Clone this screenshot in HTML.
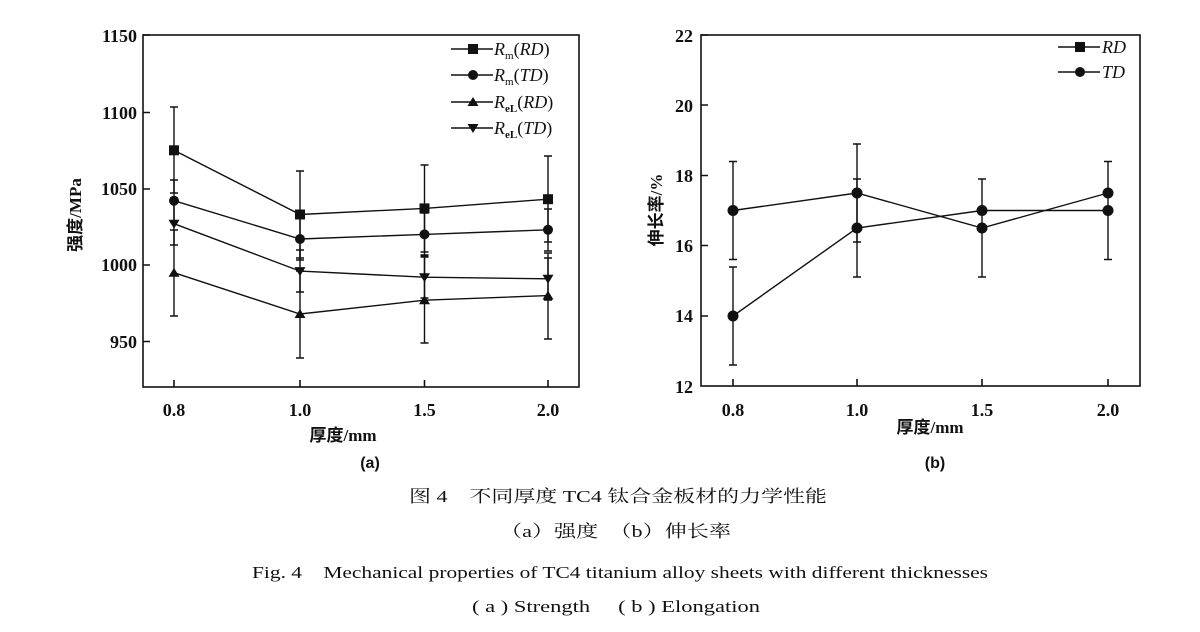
<!DOCTYPE html>
<html><head><meta charset="utf-8"><style>
body{margin:0;background:#fff;}
svg{display:block}
text{font-family:"Liberation Serif","Noto Serif CJK SC",serif;fill:#111}
.t{font-size:18px;font-weight:bold}
.cj{font-family:"Liberation Serif","Noto Sans CJK SC",sans-serif;font-weight:bold;font-size:17px}
.cap{font-family:"Liberation Serif","Noto Serif CJK SC",serif;font-size:17px}
</style></head><body>
<svg width="1200" height="632" viewBox="0 0 1200 632" xmlns="http://www.w3.org/2000/svg">
<g stroke="#111" fill="none" stroke-width="1.6">
<!-- chart a frame -->
<rect x="143" y="35" width="436" height="352"/>
<path d="M174 387v-7M300 387v-7M424.5 387v-7M548 387v-7M143 35h7M143 112.5h7M143 189h7M143 265h7M143 341.5h7"/>
<!-- chart b frame -->
<rect x="701" y="35" width="439" height="351"/>
<path d="M733 386v-7M857 386v-7M982 386v-7M1108 386v-7M701 35h7M701 105h7M701 175.5h7M701 245.5h7M701 316h7"/>
</g>
<g stroke="#111" stroke-width="1.4" fill="none">
<!-- a lines -->
<polyline points="174,150.3 300,214.5 424.5,208.4 548,199.2"/>
<polyline points="174,200.7 300,239 424.5,234.4 548,229.8"/>
<polyline points="174,272.7 300,314 424.5,300.2 548,295.6"/>
<polyline points="174,223.7 300,271.1 424.5,277.2 548,278.8"/>
<!-- a error bars -->
<path d="M174 107v86M170 107h8M170 193h8 M300 171v87M296 171h8M296 258h8 M424.5 165v87M420.5 165h8M420.5 252h8 M548 156v86M544 156h8M544 242h8"/>
<path d="M174 180v42M170 180h8M170 222h8 M300 218v42M296 218h8M296 260h8 M424.5 213v42M420.5 213h8M420.5 255h8 M548 209v42M544 209h8M544 251h8"/>
<path d="M174 230v86M170 230h8M170 316h8 M300 271v87M296 271h8M296 358h8 M424.5 257v86M420.5 257h8M420.5 343h8 M548 253v86M544 253h8M544 339h8"/>
<path d="M174 203v42M170 203h8M170 245h8 M300 250v42M296 250h8M296 292h8 M424.5 256v42M420.5 256h8M420.5 298h8 M548 258v42M544 258h8M544 300h8"/>
<!-- b lines -->
<polyline points="733,210.5 857,193 982,228 1108,193"/>
<polyline points="733,316 857,228 982,210.5 1108,210.5"/>
<path d="M733 161.5v98M729 161.5h8M729 259.5h8 M857 144v98M853 144h8M853 242h8 M982 179v98M978 179h8M978 277h8 M1108 161.5v98M1104 161.5h8M1104 259.5h8"/>
<path d="M733 267v98M729 267h8M729 365h8 M857 179v98M853 179h8M853 277h8"/>
<!-- legends -->
<path d="M451 49h42M451 75h42M451 102h42M451 128h42M1058 47h42M1058 72h42"/>
</g>
<g fill="#111">
<rect x="169" y="145.3" width="10" height="10"/><rect x="295" y="209.5" width="10" height="10"/><rect x="419.5" y="203.4" width="10" height="10"/><rect x="543" y="194.2" width="10" height="10"/>
<circle cx="174" cy="200.7" r="5"/><circle cx="300" cy="239" r="5"/><circle cx="424.5" cy="234.4" r="5"/><circle cx="548" cy="229.8" r="5"/>
<path d="M174 267.7l5.5 9h-11z M300 309l5.5 9h-11z M424.5 295.2l5.5 9h-11z M548 290.6l5.5 9h-11z"/>
<path d="M174 228.7l5.5-9h-11z M300 276.1l5.5-9h-11z M424.5 282.2l5.5-9h-11z M548 283.8l5.5-9h-11z"/>
<circle cx="733" cy="210.5" r="5.5"/><circle cx="857" cy="193" r="5.5"/><circle cx="982" cy="228" r="5.5"/><circle cx="1108" cy="193" r="5.5"/>
<circle cx="733" cy="316" r="5.5"/><circle cx="857" cy="228" r="5.5"/><circle cx="982" cy="210.5" r="5.5"/><circle cx="1108" cy="210.5" r="5.5"/>
<rect x="468" y="44" width="10" height="10"/><circle cx="473" cy="75" r="5"/><path d="M473 97l5.5 9h-11z M473 133l5.5-9h-11z"/>
<rect x="1075" y="42" width="10" height="10"/><circle cx="1080" cy="72" r="5"/>
</g>
<!-- tick labels a -->
<g class="t" text-anchor="end">
<text x="137" y="42">1150</text><text x="137" y="119">1100</text><text x="137" y="195">1050</text><text x="137" y="271">1000</text><text x="137" y="348">950</text>
<text x="693" y="42">22</text><text x="693" y="112">20</text><text x="693" y="182">18</text><text x="693" y="252">16</text><text x="693" y="322">14</text><text x="693" y="393">12</text>
</g>
<g class="t" text-anchor="middle">
<text x="174" y="416">0.8</text><text x="300" y="416">1.0</text><text x="424.5" y="416">1.5</text><text x="548" y="416">2.0</text>
<text x="733" y="416">0.8</text><text x="857" y="416">1.0</text><text x="982" y="416">1.5</text><text x="1108" y="416">2.0</text>
<text x="370" y="468" style="font-family:'Liberation Sans',sans-serif;font-size:16px">(a)</text>
<text x="935" y="468" style="font-family:'Liberation Sans',sans-serif;font-size:16px">(b)</text>
</g>
<text class="cj" x="343" y="441" text-anchor="middle">厚度/mm</text>
<text class="cj" x="930" y="433" text-anchor="middle">厚度/mm</text>
<text class="cj" transform="translate(81,215) rotate(-90)" text-anchor="middle">强度/MPa</text>
<text class="cj" transform="translate(662,210) rotate(-90)" text-anchor="middle">伸长率/%</text>
<!-- legend text -->
<g style="font-size:18px;font-style:italic">
<text x="494" y="55">R<tspan font-size="11" font-style="normal" dy="4">m</tspan><tspan dy="-4" font-style="normal">(</tspan>RD<tspan font-style="normal">)</tspan></text>
<text x="494" y="81">R<tspan font-size="11" font-style="normal" dy="4">m</tspan><tspan dy="-4" font-style="normal">(</tspan>TD<tspan font-style="normal">)</tspan></text>
<text x="494" y="108">R<tspan font-size="11" font-style="normal" font-weight="bold" dy="4">eL</tspan><tspan dy="-4" font-style="normal">(</tspan>RD<tspan font-style="normal">)</tspan></text>
<text x="494" y="134">R<tspan font-size="11" font-style="normal" font-weight="bold" dy="4">eL</tspan><tspan dy="-4" font-style="normal">(</tspan>TD<tspan font-style="normal">)</tspan></text>
<text x="1102" y="53">RD</text><text x="1102" y="78">TD</text>
</g>
<!-- captions -->
<text class="cap" x="409" y="502" textLength="418" lengthAdjust="spacingAndGlyphs">图 4　不同厚度 TC4 钛合金板材的力学性能</text>
<text class="cap" x="500" y="537" textLength="231" lengthAdjust="spacingAndGlyphs">（a）强度　（b）伸长率</text>
<text class="cap" x="252" y="578" textLength="736" lengthAdjust="spacingAndGlyphs">Fig. 4　Mechanical properties of TC4 titanium alloy sheets with different thicknesses</text>
<text class="cap" x="472" y="612" textLength="288" lengthAdjust="spacingAndGlyphs">( a ) Strength　 ( b ) Elongation</text>
</svg>
</body></html>
